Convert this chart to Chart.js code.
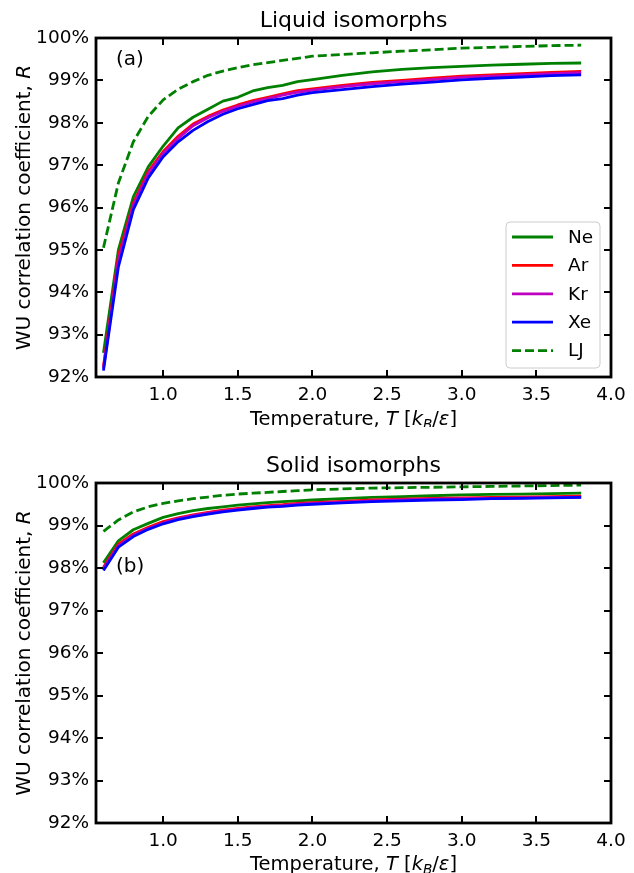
<!DOCTYPE html>
<html><head><meta charset="utf-8">
<script src="https://cdn.jsdelivr.net/npm/chart.js@4/dist/chart.umd.min.js"></script>
<style>
html,body{margin:0;padding:0;background:#fff;}
#wrap{position:relative;width:634px;height:873px;overflow:hidden;background:#fff;}
.panel{position:absolute;left:0;}
canvas{display:block;}
</style></head><body>
<div id="wrap">
<div class="panel" style="top:0"><canvas id="c1" width="634" height="427"></canvas></div>
<div class="panel" style="top:445px"><canvas id="c2" width="634" height="428"></canvas></div>
</div>
<script>
// ---------------- data ----------------
const temperature = [0.6,0.7,0.8,0.9,1.0,1.1,1.2,1.3,1.4,1.5,1.6,1.7,1.8,1.9,2.0,2.2,2.4,2.6,2.8,3.0,3.2,3.4,3.6,3.8];
const xTickValues = [1.0,1.5,2.0,2.5,3.0,3.5,4.0];
const yTickValues = [92,93,94,95,96,97,98,99,100];
const seriesNames = ['Ne','Ar','Kr','Xe','LJ'];
const seriesColors = ['#008000','#ff0000','#bf00bf','#0000ff','#008000'];

// Liquid isomorphs (percent)
const liquidNe = [92.57,95.00,96.25,96.96,97.45,97.88,98.13,98.32,98.51,98.60,98.75,98.83,98.88,98.97,99.02,99.12,99.20,99.26,99.30,99.33,99.36,99.38,99.40,99.41];
const liquidAr = [92.25,94.85,96.10,96.85,97.32,97.68,97.97,98.15,98.30,98.42,98.52,98.60,98.68,98.76,98.80,98.88,98.95,99.00,99.05,99.10,99.13,99.16,99.19,99.21];
const liquidKr = [92.20,94.75,96.05,96.80,97.28,97.63,97.93,98.12,98.27,98.39,98.49,98.57,98.65,98.72,98.77,98.85,98.92,98.97,99.02,99.07,99.10,99.13,99.16,99.18];
const liquidXe = [92.15,94.60,95.95,96.70,97.20,97.55,97.82,98.03,98.20,98.33,98.43,98.52,98.57,98.65,98.71,98.78,98.85,98.91,98.96,99.01,99.05,99.08,99.11,99.13];
const liquidLJ = [95.05,96.58,97.55,98.15,98.54,98.79,98.97,99.12,99.22,99.30,99.37,99.42,99.47,99.52,99.57,99.61,99.65,99.69,99.72,99.76,99.78,99.80,99.82,99.83];

// Solid isomorphs (percent)
const solidNe = [98.12,98.64,98.90,99.05,99.19,99.28,99.35,99.40,99.44,99.48,99.51,99.54,99.56,99.58,99.60,99.63,99.66,99.68,99.70,99.72,99.73,99.74,99.75,99.76];
const solidAr = [98.02,98.56,98.80,98.96,99.09,99.18,99.25,99.31,99.36,99.40,99.44,99.47,99.49,99.52,99.54,99.57,99.60,99.62,99.64,99.65,99.66,99.67,99.68,99.69];
const solidKr = [97.98,98.52,98.77,98.93,99.06,99.16,99.23,99.29,99.34,99.38,99.42,99.45,99.47,99.50,99.52,99.55,99.58,99.60,99.62,99.63,99.64,99.65,99.66,99.67];
const solidXe = [97.94,98.49,98.74,98.91,99.04,99.14,99.21,99.27,99.32,99.36,99.40,99.43,99.45,99.48,99.50,99.53,99.56,99.58,99.60,99.61,99.63,99.64,99.65,99.66];
const solidLJ = [98.86,99.13,99.32,99.44,99.52,99.58,99.63,99.67,99.71,99.74,99.76,99.78,99.80,99.82,99.84,99.86,99.88,99.89,99.90,99.91,99.92,99.93,99.94,99.95];

// ---------------- helpers ----------------
const FONT = '"DejaVu Sans", "Liberation Sans", sans-serif';

function makeDatasets(arrays){
  return arrays.map((arr,i)=>({
    label: seriesNames[i],
    data: temperature.map((t,k)=>({x:t,y:arr[k]})),
    borderColor: seriesColors[i],
    backgroundColor: seriesColors[i],
    borderWidth: 2.8,
    borderDash: seriesNames[i]==='LJ' ? [9,4] : [],
    pointRadius: 0,
    tension: 0,
    fill: false,
    order: arrays.length - i,
    borderJoinStyle: 'round'
  }));
}

function richWidth(ctx, parts, size){
  let w = 0;
  for(const p of parts){
    const s = p.sub ? size*0.7 : size;
    ctx.font = (p.italic?'italic ':'') + s + 'px ' + FONT;
    w += ctx.measureText(p.t).width;
  }
  return w;
}
function drawRich(ctx, parts, cx, baseline, size){
  const total = richWidth(ctx, parts, size);
  let x = cx - total/2;
  ctx.textAlign = 'left';
  ctx.textBaseline = 'alphabetic';
  for(const p of parts){
    const s = p.sub ? size*0.7 : size;
    ctx.font = (p.italic?'italic ':'') + s + 'px ' + FONT;
    ctx.fillText(p.t, x, baseline + (p.sub ? size*0.22 : 0));
    x += ctx.measureText(p.t).width;
  }
}

const xLabelParts = [{t:'Temperature, '},{t:'T',italic:true},{t:' ['},{t:'k',italic:true},{t:'B',italic:true,sub:true},{t:'/'},{t:'ε',italic:true},{t:']'}];
const yLabelParts = [{t:'WU correlation coefficient, '},{t:'R',italic:true}];

const decorPlugin = {
  id: 'decor',
  afterDatasetsDraw(chart, args, opts){
    const ctx = chart.ctx, a = chart.chartArea;
    const xs = chart.scales.x, ys = chart.scales.y;
    ctx.save();
    ctx.strokeStyle = '#000';
    // ticks (inward, all four sides)
    ctx.lineWidth = 2;
    ctx.beginPath();
    for(const v of xTickValues){
      const px = Math.round(xs.getPixelForValue(v));
      ctx.moveTo(px, a.bottom); ctx.lineTo(px, a.bottom-7);
      ctx.moveTo(px, a.top); ctx.lineTo(px, a.top+7);
    }
    for(const v of yTickValues){
      const py = Math.round(ys.getPixelForValue(v));
      ctx.moveTo(a.left, py); ctx.lineTo(a.left+7, py);
      ctx.moveTo(a.right, py); ctx.lineTo(a.right-7, py);
    }
    ctx.stroke();
    // frame
    ctx.lineWidth = 2.8;
    ctx.strokeRect(a.left, a.top, a.right-a.left, a.bottom-a.top);

    ctx.fillStyle = '#000';
    // title
    ctx.font = '22px ' + FONT;
    ctx.textAlign = 'center';
    ctx.textBaseline = 'alphabetic';
    ctx.fillText(opts.title, (a.left+a.right)/2, 27);
    // panel letter
    ctx.font = '20px ' + FONT;
    ctx.textAlign = 'left';
    ctx.textBaseline = 'middle';
    ctx.fillText(opts.letter, a.left+20, a.top+opts.letterDy);
    // x label
    ctx.fillStyle = '#000';
    drawRich(ctx, xLabelParts, (a.left+a.right)/2, 425, 19.5);
    // y label (partly cut by the left edge, as in the original figure)
    ctx.save();
    ctx.translate(30, (a.top+a.bottom)/2);
    ctx.rotate(-Math.PI/2);
    drawRich(ctx, yLabelParts, 0, 0, 20);
    ctx.restore();

    // legend
    if(opts.legend){
      const bx = a.right-105, by = a.bottom-155, bw = 94, bh = 146;
      ctx.beginPath();
      ctx.roundRect(bx, by, bw, bh, 4);
      ctx.fillStyle = 'rgba(255,255,255,0.8)';
      ctx.fill();
      ctx.lineWidth = 1;
      ctx.strokeStyle = '#cccccc';
      ctx.stroke();
      chart.data.datasets.forEach((ds,i)=>{
        const ry = by + 15 + i*28.4;
        ctx.beginPath();
        ctx.setLineDash(ds.borderDash || []);
        ctx.strokeStyle = ds.borderColor;
        ctx.lineWidth = ds.borderWidth;
        ctx.moveTo(bx+6, ry); ctx.lineTo(bx+47, ry);
        ctx.stroke();
        ctx.setLineDash([]);
        ctx.fillStyle = '#000';
        ctx.font = '18.5px ' + FONT;
        ctx.textAlign = 'left';
        ctx.textBaseline = 'middle';
        ctx.fillText(ds.label, bx+62, ry+1);
      });
    }
    ctx.restore();
  }
};

function makeChart(id, arrays, title, letter, letterDy, legend, canvasH, plotBottom){
  return new Chart(document.getElementById(id), {
    type: 'line',
    data: { datasets: makeDatasets(arrays) },
    options: {
      responsive: false,
      animation: false,
      devicePixelRatio: 1,
      layout: { padding: { top: 38, right: 23, left: 0, bottom: 0 } },
      plugins: {
        legend: { display: false },
        tooltip: { enabled: false },
        title: { display: false },
        decor: { title, letter, letterDy, legend }
      },
      scales: {
        x: {
          type: 'linear', min: 0.55, max: 4.0,
          grid: { display: false, drawTicks: false },
          border: { display: false },
          afterBuildTicks: s => { s.ticks = xTickValues.map(v=>({value:v})); },
          afterFit: s => { s.height = canvasH - plotBottom; },
          ticks: { color:'#000', font:{family:FONT,size:18.5}, padding: 7, maxRotation:0, autoSkip:false,
                   callback: v => Number(v).toFixed(1) }
        },
        y: {
          type: 'linear', min: 92, max: 100,
          grid: { display: false, drawTicks: false },
          border: { display: false },
          afterBuildTicks: s => { s.ticks = yTickValues.map(v=>({value:v})); },
          afterFit: s => { s.width = 96; },
          ticks: { color:'#000', font:{family:FONT,size:18.5}, padding: 7,
                   callback: v => Math.round(v) + '%' }
        }
      }
    },
    plugins: [decorPlugin]
  });
}

makeChart('c1', [liquidNe, liquidAr, liquidKr, liquidXe, liquidLJ], 'Liquid isomorphs', '(a)', 22, true, 427, 377);
makeChart('c2', [solidNe, solidAr, solidKr, solidXe, solidLJ], 'Solid isomorphs', '(b)', 84, false, 428, 378);
</script>
</body></html>
